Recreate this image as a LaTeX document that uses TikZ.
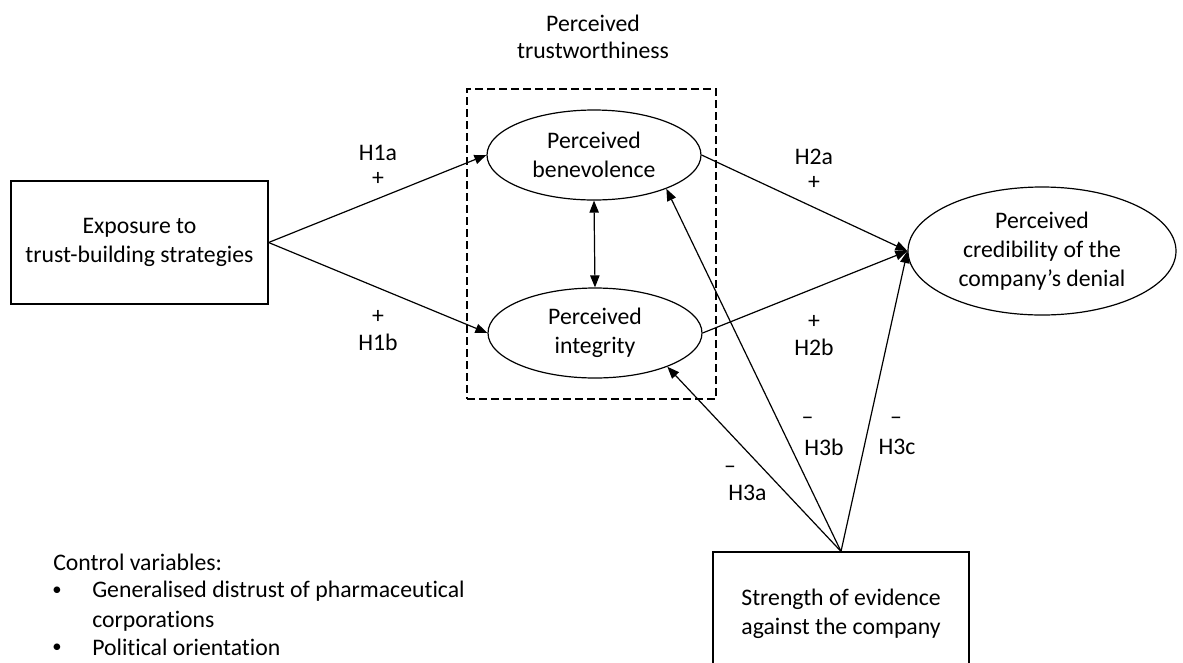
\documentclass[tikz,border=0pt]{standalone}
\usepackage{fontspec}
\setmainfont{Carlito}[Ligatures=NoCommon]
\usetikzlibrary{arrows.meta,shapes.geometric}

\begin{document}
\begin{tikzpicture}[x=0.75pt,y=-0.75pt,>={Triangle[length=9pt,width=7pt]},
	every node/.style={font=\fontsize{17.8}{21.75}\selectfont,align=center},
	varbox/.style={draw,line width=0.9pt,inner sep=0pt},
	latent/.style={draw,ellipse,line width=0.9pt,inner sep=0pt},
	path/.style={->,line width=0.9pt},
	hyp/.style={inner sep=0pt}]
	\useasboundingbox (0,0) rectangle (1183,662);
	% boxes and ellipses
	\node[varbox,minimum width=192.75pt,minimum height=92.25pt] (exp) at (139.5,242.5) {Exposure to\\trust-building strategies};
	\node[latent,minimum width=160.5pt,minimum height=67.5pt] (ben) at (594,155) {Perceived\\benevolence};
	\node[latent,minimum width=160.5pt,minimum height=67.5pt] (integ) at (595,333) {Perceived\\integrity};
	\node[latent,minimum width=201pt,minimum height=96pt] (cred) at (1042,251) {Perceived\\credibility of the\\company’s denial};
	\node[varbox,minimum width=192pt,minimum height=93pt] (ev) at (841,614) {Strength of evidence\\against the company};
	\node[draw,dash pattern=on 6pt off 3pt,line width=0.8pt,inner sep=0pt,minimum width=186.75pt,minimum height=232.5pt] (trust) at (591.5,244) {};
	\node[font=\fontsize{17.8}{20.25}\selectfont] (trustlbl) at (593,36.5) {Perceived\\trustworthiness};
	% paths
	\draw[path] (exp.east) -- (ben.west);
	\draw[path] (exp.east) -- (integ.west);
	\draw[<->,line width=0.9pt] (ben.south) -- (integ.north);
	\draw[path] (ben.east) -- (cred.west);
	\draw[path] (integ.east) -- (cred.west);
	\draw[path] (ev.north) -- (integ.-25);
	\draw[path] (ev.north) -- (ben.-25);
	\draw[path] (ev.north) -- (cred.west);
	% hypothesis labels
	\node[hyp] (h1a) at (378,153) {H1a};
	\node[hyp] (s1a) at (378,179) {+};
	\node[hyp] (s1b) at (378,317) {+};
	\node[hyp] (h1b) at (378,342) {H1b};
	\node[hyp] (h2a) at (814,157) {H2a};
	\node[hyp] (s2a) at (814,183) {+};
	\node[hyp] (s2b) at (814,322) {+};
	\node[hyp] (h2b) at (814,347) {H2b};
	\node[hyp] (s3a) at (730,470) {–};
	\node[hyp] (h3a) at (747.5,493) {H3a};
	\node[hyp] (s3b) at (807.5,421) {–};
	\node[hyp] (h3b) at (824,447) {H3b};
	\node[hyp] (s3c) at (896,421) {–};
	\node[hyp] (h3c) at (897,447) {H3c};
	% control variables
	\node[hyp,anchor=west] (ctrl) at (53,562) {Control variables:};
	\node[hyp,font=\fontsize{14}{14}\selectfont] (b1) at (57,591) {•};
	\node[hyp,font=\fontsize{14}{14}\selectfont] (b2) at (57,648) {•};
	\node[hyp,anchor=north west,align=left,font=\fontsize{17.8}{22.5}\selectfont] (c1) at (92,581) {Generalised distrust of pharmaceutical\\corporations};
	\node[hyp,anchor=west] (c2) at (92,647) {Political orientation};
\end{tikzpicture}
\end{document}
